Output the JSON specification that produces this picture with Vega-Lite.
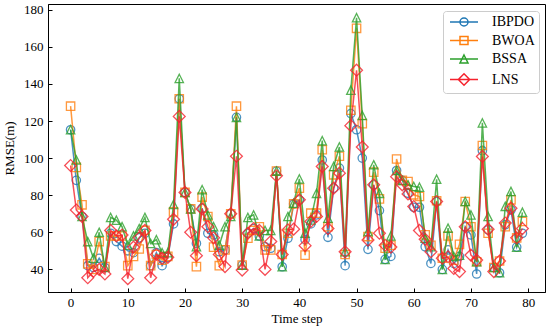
{
  "$schema": "https://vega.github.io/schema/vega-lite/v6.json",
  "width": 497,
  "height": 288,
  "autosize": {"type": "none"},
  "padding": {"left": 48, "top": 4, "right": 5, "bottom": 38},
  "background": "white",
  "config": {
    "view": {"stroke": "black", "strokeWidth": 1},
    "font": "Liberation Serif",
    "axis": {
      "domainColor": "black", "domainWidth": 1, "tickColor": "black", "tickSize": -4, "tickWidth": 1,
      "labelFont": "Liberation Serif", "labelFontSize": 13, "labelColor": "black",
      "titleFont": "Liberation Serif", "titleFontSize": 13, "titleFontWeight": "normal", "titleColor": "black",
      "grid": false, "labelFlush": false, "labelOverlap": false
    }
  },
  "data": {"values": [
    {"t":0,"IBPDO":115.3,"BWOA":128,"BSSA":115.3,"LNS":96},
    {"t":1,"IBPDO":88,"BWOA":95,"BSSA":99,"LNS":72},
    {"t":2,"IBPDO":68.5,"BWOA":74.8,"BSSA":68.5,"LNS":68.5},
    {"t":3,"IBPDO":42,"BWOA":43,"BSSA":55,"LNS":35.5},
    {"t":4,"IBPDO":41,"BWOA":40,"BSSA":46,"LNS":39},
    {"t":5,"IBPDO":46,"BWOA":55,"BSSA":60,"LNS":40},
    {"t":6,"IBPDO":41,"BWOA":41.5,"BSSA":41,"LNS":37.5},
    {"t":7,"IBPDO":59.5,"BWOA":58,"BSSA":68,"LNS":61},
    {"t":8,"IBPDO":55,"BWOA":58,"BSSA":66.5,"LNS":58},
    {"t":9,"IBPDO":52.5,"BWOA":58,"BSSA":63,"LNS":58.5},
    {"t":10,"IBPDO":50,"BWOA":42,"BSSA":53,"LNS":35},
    {"t":11,"IBPDO":49,"BWOA":47,"BSSA":58,"LNS":52},
    {"t":12,"IBPDO":57,"BWOA":51,"BSSA":62,"LNS":57},
    {"t":13,"IBPDO":59.5,"BWOA":61,"BSSA":68,"LNS":61},
    {"t":14,"IBPDO":42,"BWOA":42,"BSSA":54,"LNS":35.5},
    {"t":15,"IBPDO":49,"BWOA":48,"BSSA":56,"LNS":48},
    {"t":16,"IBPDO":42,"BWOA":45,"BSSA":49,"LNS":46},
    {"t":17,"IBPDO":46.5,"BWOA":47,"BSSA":49,"LNS":46.5},
    {"t":18,"IBPDO":64.5,"BWOA":71,"BSSA":75,"LNS":67},
    {"t":19,"IBPDO":132,"BWOA":132,"BSSA":143,"LNS":122.5},
    {"t":20,"IBPDO":81.5,"BWOA":81.5,"BSSA":81.5,"LNS":81.5},
    {"t":21,"IBPDO":72.6,"BWOA":72.6,"BSSA":72.6,"LNS":60},
    {"t":22,"IBPDO":54,"BWOA":41.5,"BSSA":52.2,"LNS":47.4},
    {"t":23,"IBPDO":73,"BWOA":79,"BSSA":83,"LNS":72.6},
    {"t":24,"IBPDO":59.5,"BWOA":68.5,"BSSA":69.4,"LNS":63},
    {"t":25,"IBPDO":58.6,"BWOA":52,"BSSA":63,"LNS":57},
    {"t":26,"IBPDO":49.5,"BWOA":42,"BSSA":53,"LNS":48},
    {"t":27,"IBPDO":50.5,"BWOA":50.5,"BSSA":63,"LNS":41.5},
    {"t":28,"IBPDO":70,"BWOA":70,"BSSA":68.5,"LNS":70},
    {"t":29,"IBPDO":122,"BWOA":128,"BSSA":122,"LNS":101},
    {"t":30,"IBPDO":42.3,"BWOA":42.3,"BSSA":42.3,"LNS":39.6},
    {"t":31,"IBPDO":59.5,"BWOA":56.8,"BSSA":68,"LNS":59.5},
    {"t":32,"IBPDO":62,"BWOA":61,"BSSA":69.4,"LNS":62},
    {"t":33,"IBPDO":58,"BWOA":63,"BSSA":58,"LNS":61},
    {"t":34,"IBPDO":52.2,"BWOA":50.5,"BSSA":61,"LNS":40},
    {"t":35,"IBPDO":51.4,"BWOA":50.5,"BSSA":61,"LNS":55},
    {"t":36,"IBPDO":93,"BWOA":93,"BSSA":93,"LNS":90.5},
    {"t":37,"IBPDO":41.4,"BWOA":48,"BSSA":41.4,"LNS":48},
    {"t":38,"IBPDO":56.8,"BWOA":59.5,"BSSA":68.5,"LNS":61.3},
    {"t":39,"IBPDO":75.3,"BWOA":75.3,"BSSA":75.7,"LNS":61.7},
    {"t":40,"IBPDO":77.5,"BWOA":83.8,"BSSA":88.8,"LNS":77.5},
    {"t":41,"IBPDO":56,"BWOA":47.7,"BSSA":59.5,"LNS":52.8},
    {"t":42,"IBPDO":64.5,"BWOA":70.3,"BSSA":66.7,"LNS":65.8},
    {"t":43,"IBPDO":69.4,"BWOA":70.3,"BSSA":81,"LNS":68.5},
    {"t":44,"IBPDO":99,"BWOA":104.5,"BSSA":109.4,"LNS":95.5},
    {"t":45,"IBPDO":57.3,"BWOA":63,"BSSA":67.6,"LNS":62},
    {"t":46,"IBPDO":83.8,"BWOA":91,"BSSA":95.5,"LNS":83.8},
    {"t":47,"IBPDO":94.6,"BWOA":101,"BSSA":106,"LNS":91.9},
    {"t":48,"IBPDO":42,"BWOA":48,"BSSA":49.5,"LNS":49.5},
    {"t":49,"IBPDO":124,"BWOA":125.8,"BSSA":136.6,"LNS":117.5},
    {"t":50,"IBPDO":115.3,"BWOA":170,"BSSA":175.7,"LNS":147.4},
    {"t":51,"IBPDO":100,"BWOA":118.6,"BSSA":123,"LNS":106},
    {"t":52,"IBPDO":50.8,"BWOA":57.7,"BSSA":60.4,"LNS":55.8},
    {"t":53,"IBPDO":85.6,"BWOA":92.4,"BSSA":96.4,"LNS":85.6},
    {"t":54,"IBPDO":71.7,"BWOA":78,"BSSA":81,"LNS":59.5},
    {"t":55,"IBPDO":45.4,"BWOA":51.4,"BSSA":45.4,"LNS":53},
    {"t":56,"IBPDO":47,"BWOA":53,"BSSA":58,"LNS":52},
    {"t":57,"IBPDO":93.3,"BWOA":99.5,"BSSA":93.3,"LNS":90},
    {"t":58,"IBPDO":88,"BWOA":88,"BSSA":88,"LNS":85.6},
    {"t":59,"IBPDO":81,"BWOA":87.4,"BSSA":85.6,"LNS":80.7},
    {"t":60,"IBPDO":73.5,"BWOA":80.2,"BSSA":84.7,"LNS":73.9},
    {"t":61,"IBPDO":73.5,"BWOA":79.3,"BSSA":84.3,"LNS":61},
    {"t":62,"IBPDO":52.2,"BWOA":58.6,"BSSA":56.8,"LNS":56.2},
    {"t":63,"IBPDO":43.2,"BWOA":53,"BSSA":52.2,"LNS":49.5},
    {"t":64,"IBPDO":76.6,"BWOA":77,"BSSA":88.6,"LNS":76.6},
    {"t":65,"IBPDO":40,"BWOA":46,"BSSA":40,"LNS":46},
    {"t":66,"IBPDO":50.5,"BWOA":58,"BSSA":62.2,"LNS":46.8},
    {"t":67,"IBPDO":43.2,"BWOA":45,"BSSA":47,"LNS":40.5},
    {"t":68,"IBPDO":47,"BWOA":53.5,"BSSA":47.7,"LNS":38.8},
    {"t":69,"IBPDO":63,"BWOA":76.6,"BSSA":76.6,"LNS":63},
    {"t":70,"IBPDO":58.6,"BWOA":63,"BSSA":69.4,"LNS":47.7},
    {"t":71,"IBPDO":37.5,"BWOA":44.1,"BSSA":44.1,"LNS":45},
    {"t":72,"IBPDO":104,"BWOA":106.8,"BSSA":119,"LNS":100.9},
    {"t":73,"IBPDO":61.3,"BWOA":59.5,"BSSA":68.5,"LNS":61.7},
    {"t":74,"IBPDO":41,"BWOA":41,"BSSA":41,"LNS":38.8},
    {"t":75,"IBPDO":38.2,"BWOA":44.5,"BSSA":38.2,"LNS":44.5},
    {"t":76,"IBPDO":64,"BWOA":63,"BSSA":74,"LNS":65},
    {"t":77,"IBPDO":72,"BWOA":77.5,"BSSA":82,"LNS":73},
    {"t":78,"IBPDO":52,"BWOA":57,"BSSA":52,"LNS":57},
    {"t":79,"IBPDO":59.5,"BWOA":65.8,"BSSA":70.8,"LNS":62}
  ]},
  "transform": [{"fold": ["IBPDO", "BWOA", "BSSA", "LNS"], "as": ["series", "value"]}],
  "resolve": {"legend": {"color": "independent"}},
  "encoding": {
    "x": {"field": "t", "type": "quantitative", "title": "Time step",
      "scale": {"domain": [-3.95, 82.95], "nice": false, "zero": false},
      "axis": {"values": [0,10,20,30,40,50,60,70,80], "labelPadding": 8, "titlePadding": 3}},
    "y": {"field": "value", "type": "quantitative", "title": "RMSE(m)",
      "scale": {"domain": [27.8, 183.1], "nice": false, "zero": false},
      "axis": {"values": [40,60,80,100,120,140,160,180], "labelPadding": 9, "titlePadding": 7}},
    "color": {"field": "series", "type": "nominal",
      "scale": {"domain": ["IBPDO", "BWOA", "BSSA", "LNS"], "range": ["#1f77b4", "#ff7f0e", "#2ca02c", "#f5222d"]},
      "legend": null}
  },
  "layer": [
    {"transform": [{"filter": "datum.series === 'IBPDO'"}], "mark": {"type": "line", "strokeWidth": 1.5, "opacity": 0.8},
     "encoding": {"color": {"field": "series", "type": "nominal",
      "scale": {"domain": ["IBPDO", "BWOA", "BSSA", "LNS"], "range": ["#1f77b4", "#ff7f0e", "#2ca02c", "#f5222d"]},
      "legend": {
        "title": null, "orient": "top-right", "offset": 6.5,
        "fillColor": "rgba(255,255,255,0.8)", "strokeColor": "#cccccc", "cornerRadius": 3, "padding": 4,
        "labelFont": "Liberation Serif", "labelFontSize": 14, "labelColor": "black",
        "symbolSize": 64, "symbolStrokeWidth": 1.5, "rowPadding": 4.5, "labelOffset": 31,
        "symbolFillColor": "transparent", "symbolOpacity": 1, "symbolType": "M-1,0H6",
        "encode": {"symbols": {"update": {
          "shape": {"signal": "datum.value === 'IBPDO' ? 'M-1,0H6M3.5,0A1,1 0 1,1 1.5,0A1,1 0 1,1 3.5,0' : datum.value === 'BWOA' ? 'M-1,0H6M1.5,-1H3.5V1H1.5Z' : datum.value === 'BSSA' ? 'M-1,0H6M2.5,-1L3.5,1L1.5,1Z' : 'M-1,0H6M2.5,-1.414L3.914,0L2.5,1.414L1.086,0Z'"},
          "fill": {"value": "transparent"}
        }}}
      }}}},
    {"transform": [{"filter": "datum.series === 'IBPDO'"}], "mark": {"type": "point", "filled": false, "strokeWidth": 1.3, "size": 70, "opacity": 0.8, "shape": "circle"}},
    {"transform": [{"filter": "datum.series === 'BWOA'"}], "mark": {"type": "line", "strokeWidth": 1.5, "opacity": 0.8}},
    {"transform": [{"filter": "datum.series === 'BWOA'"}], "mark": {"type": "point", "filled": false, "strokeWidth": 1.3, "size": 70, "opacity": 0.8, "shape": "square"}},
    {"transform": [{"filter": "datum.series === 'BSSA'"}], "mark": {"type": "line", "strokeWidth": 1.5, "opacity": 0.8}},
    {"transform": [{"filter": "datum.series === 'BSSA'"}], "mark": {"type": "point", "filled": false, "strokeWidth": 1.3, "size": 70, "opacity": 0.8, "shape": "M0,-1L1,1L-1,1Z"}},
    {"transform": [{"filter": "datum.series === 'LNS'"}], "mark": {"type": "line", "strokeWidth": 1.5, "opacity": 0.8}},
    {"transform": [{"filter": "datum.series === 'LNS'"}], "mark": {"type": "point", "filled": false, "strokeWidth": 1.3, "size": 70, "opacity": 0.8, "shape": "M0,-1.414L1.414,0L0,1.414L-1.414,0Z"}}
  ]
}
